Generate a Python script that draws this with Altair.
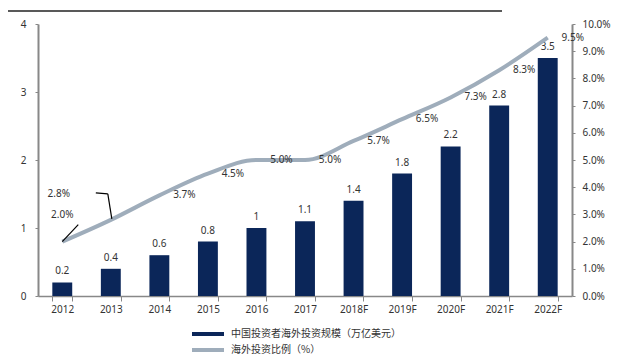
import altair as alt
import pandas as pd

years = ["2012", "2013", "2014", "2015", "2016", "2017", "2018F", "2019F", "2020F", "2021F", "2022F"]
scale_vals = [0.2, 0.4, 0.6, 0.8, 1, 1.1, 1.4, 1.8, 2.2, 2.8, 3.5]
ratio_vals = [2.0, 2.8, 3.7, 4.5, 5.0, 5.0, 5.7, 6.5, 7.3, 8.3, 9.5]
bar_name = "中国投资者海外投资规模（万亿美元）"
line_name = "海外投资比例（%）"

df = pd.DataFrame({
    "year": years,
    "scale": scale_vals,
    "ratio": [v / 100 for v in ratio_vals],
    "scale_label": [str(v) for v in scale_vals],
    "ratio_label": [f"{v:.1f}%" for v in ratio_vals],
    "idx": list(range(len(years))),
})
df["bar_series"] = bar_name
df["line_series"] = line_name

FONT = "Noto Sans"
TXT = "#333333"
NAVY = "#0b2659"
GREY = "#9fadbb"

color_scale = alt.Scale(domain=[bar_name, line_name], range=[NAVY, GREY])

x = alt.X("year:N", sort=years, title=None,
          scale=alt.Scale(paddingInner=0.59, paddingOuter=0.295),
          axis=alt.Axis(labelAngle=0, tickBand="extent", tickSize=5, domainColor="#888888",
                        tickColor="#888888", domainWidth=1.5, labelFont=FONT, labelFontSize=10,
                        labelColor=TXT, labelPadding=3))

base = alt.Chart(df)

y1 = alt.Y("scale:Q", title=None,
           scale=alt.Scale(domain=[0, 4]),
           axis=alt.Axis(values=[0, 1, 2, 3, 4], format="d", grid=False, tickSize=3, labelPadding=9,
                         domainColor="#888888", tickColor="#888888", domainWidth=2,
                         labelFont=FONT, labelFontSize=10, labelColor=TXT))

bars = base.mark_bar(color=NAVY).encode(
    x=x, y=y1,
    color=alt.Color("bar_series:N", scale=color_scale, title=None),
)
bar_text = base.mark_text(dy=-11, font=FONT, fontSize=10, color=TXT).encode(
    x=x, y=y1, text="scale_label:N")

left = alt.layer(bars, bar_text)

y2 = alt.Y("ratio:Q", title=None,
           scale=alt.Scale(domain=[0, 0.1]),
           axis=alt.Axis(orient="right", format=".1%", values=[i / 100 for i in range(11)],
                         labelOverlap=False, tickCount=11,
                         grid=False, tickSize=3, labelPadding=7, domainColor="#888888",
                         tickColor="#888888", domainWidth=2, labelFont=FONT,
                         labelFontSize=10, labelColor=TXT))

line = base.mark_line(strokeWidth=4, interpolate="monotone").encode(
    x=x, y=y2,
    color=alt.Color("line_series:N", scale=color_scale, title=None),
)
line_text = base.transform_filter("datum.idx >= 2").mark_text(
    dx=25, font=FONT, fontSize=10, color=TXT, baseline="middle").encode(
    x=x, y=y2, text="ratio_label:N")
t0 = base.transform_filter("datum.idx == 0").mark_text(
    dy=-27, font=FONT, fontSize=10, color=TXT, baseline="middle").encode(
    x=x, y=y2, text="ratio_label:N")
t1 = base.transform_filter("datum.idx == 1").mark_text(
    dx=-52, dy=-26, font=FONT, fontSize=10, color=TXT, baseline="middle").encode(
    x=x, y=y2, text="ratio_label:N")
lead0 = base.transform_filter("datum.idx == 0").mark_rule(
    color="black", strokeWidth=1.2, x2Offset=16, y2Offset=-17).encode(
    x=x, y=y2, x2=alt.X2("year:N"), y2="ratio:Q")
lead1a = base.transform_filter("datum.idx == 1").mark_rule(
    color="black", strokeWidth=1.2, xOffset=1, yOffset=-1, x2Offset=-3, y2Offset=-26).encode(
    x=x, y=y2, x2=alt.X2("year:N"), y2="ratio:Q")
lead1b = base.transform_filter("datum.idx == 1").mark_rule(
    color="black", strokeWidth=1.2, xOffset=-3, yOffset=-26, x2Offset=-15, y2Offset=-27).encode(
    x=x, y=y2, x2=alt.X2("year:N"), y2="ratio:Q")

right = alt.layer(line, line_text, t0, t1, lead0, lead1a, lead1b)

top_line = alt.Chart(pd.DataFrame({"a": [0]})).mark_rule(color="#222222", strokeWidth=1.5).encode(
    x=alt.value(-30), x2=alt.value(464), y=alt.value(-13))

chart = alt.layer(left, right, top_line).resolve_scale(y="independent").properties(
    width=534, height=272,
    autosize=alt.AutoSizeParams(type="none"),
    padding={"left": 30, "top": 16, "right": 60, "bottom": 60},
).configure_view(stroke=None).configure_legend(
    orient="none", legendX=152, legendY=302, symbolType="stroke", symbolStrokeWidth=4,
    symbolSize=1024, clipHeight=16, labelFont="Noto Sans CJK SC", labelFontSize=10,
    labelColor=TXT, rowPadding=0, labelLimit=400, labelOffset=5,
)

chart.save("out.html", embed_options={"renderer": "svg", "actions": False})
